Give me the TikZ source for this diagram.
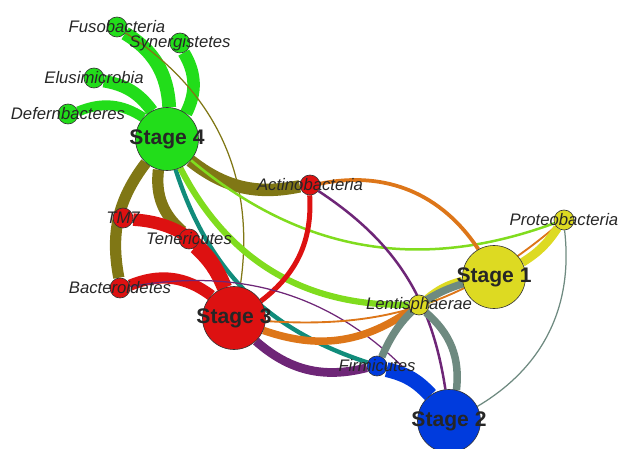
\documentclass[tikz,border=0pt]{standalone}
\usepackage{fontspec}
\setmainfont{Liberation Sans}
\usepackage{xcolor}
\definecolor{sfour}{RGB}{34,221,26}
\definecolor{sthree}{RGB}{221,17,17}
\definecolor{sone}{RGB}{221,218,34}
\definecolor{stwo}{RGB}{0,59,221}
\pgfdeclarelayer{edges}
\pgfsetlayers{edges,main}

\begin{document}
\begin{tikzpicture}[x=0.4mm, y=0.4mm,
  stage/.style={circle, draw=black!80, line width=0.7pt, minimum size=25.2mm, inner sep=0pt},
  stx/.style={font=\bfseries\fontsize{24}{26}\selectfont, text=black!85},
  phylum/.style={circle, draw=black!80, line width=0.7pt, minimum size=8mm, inner sep=0pt},
  tx/.style={font=\itshape\fontsize{19}{21}\selectfont, text=black!85},
  px/.style={line width=#1*0.5mm}]
  \clip (0,0) rectangle (620,448);
  % stages
  \node[stage, fill=sfour, label={[stx]center:Stage 4}]  (s4) at (167,309) {};
  \node[stage, fill=sthree, label={[stx]center:Stage 3}] (s3) at (234,130) {};
  \node[stage, fill=sone, label={[stx]center:Stage 1}]   (s1) at (494,171) {};
  \node[stage, fill=stwo, label={[stx]center:Stage 2}]   (s2) at (449,27)  {};
  % phyla
  \node[phylum, fill=sfour, label={[tx]center:Fusobacteria}]    (fuso)    at (117,421) {};
  \node[phylum, fill=sfour, label={[tx]center:Synergistetes}]   (syner)   at (180,405) {};
  \node[phylum, fill=sfour, label={[tx]center:Elusimicrobia}]   (elusi)   at (94,370)  {};
  \node[phylum, fill=sfour, label={[tx]center:Defernbacteres}]  (defer)   at (68,334)  {};
  \node[phylum, fill=sthree, label={[tx]center:Actinobacteria}] (actino)  at (310,263) {};
  \node[phylum, fill=sthree, label={[tx]center:TM7}]            (tm7)     at (123,230) {};
  \node[phylum, fill=sthree, label={[tx]center:Tenericutes}]    (teneri)  at (189,209) {};
  \node[phylum, fill=sthree, label={[tx]center:Bacteroidetes}]  (bactero) at (120,160) {};
  \node[phylum, fill=sone, label={[tx]center:Proteobacteria}]   (proteo)  at (564,228) {};
  \node[phylum, fill=sone, label={[tx]center:Lentisphaerae}]    (lentis)  at (419,143) {};
  \node[phylum, fill=stwo, label={[tx]center:Firmicutes}]       (firmi)   at (377,82)  {};

  \begin{pgfonlayer}{edges}
    \draw[sfour, px=11] (s4) to[bend right=28] (fuso);
    \draw[sfour, px=10] (s4) to[bend right=29] (syner);
    \draw[sfour, px=10] (s4) to[bend right=22] (elusi);
    \draw[sfour, px=8]  (s4) to[bend right=28] (defer);
    \draw[sfour!50!sthree, px=10] (s4) to[bend right=25] (actino);
    \draw[sfour!50!sthree, px=9]  (s4) to[bend right=24] (bactero);
    \draw[sfour!50!sthree, px=9]  (s4) to[bend right=28] (teneri);
    \draw[sfour!50!sthree, px=1]  (s3) to[bend right=33] (fuso);
    \draw[sfour!50!stwo, px=3.5]  (s4) to[bend right=27] (firmi);
    \draw[sfour!50!sone, px=5]    (s4) to[bend right=32] (lentis);
    \draw[sfour!50!sone, px=2]    (s4) to[bend right=30] (proteo);
    \draw[sthree, px=10] (s3) to[bend right=33] (tm7);
    \draw[sthree, px=12] (s3) to[bend right=12] (teneri);
    \draw[sthree, px=9]  (s3) to[bend right=30] (bactero);
    \draw[sthree, px=4]  (s3) to[bend right=28] (actino);
    \draw[sthree!50!stwo, px=7] (s3) to[bend right=28] (firmi);
    \draw[sthree!50!stwo, px=2] (s2) to[bend right=24] (actino);
    \draw[sthree!50!stwo, px=1] (s2) to[bend right=30] (bactero);
    \draw[sthree!50!sone, px=6]   (s3) to[bend right=27] (lentis);
    \draw[sthree!50!sone, px=1.5] (s3) to[bend right=22] (proteo);
    \draw[sthree!50!sone, px=3]   (s1) to[bend right=34] (actino);
    \draw[sone, px=8] (s1) to[bend right=12] (lentis);
    \draw[sone, px=7] (s1) to[bend right=12] (proteo);
    \draw[sone!50!stwo, px=6] (s1) to[bend right=25] (firmi);
    \draw[sone!50!stwo, px=6] (s2) to[bend right=28] (lentis);
    \draw[sone!50!stwo, px=1] (s2) to[bend right=33] (proteo);
    \draw[stwo, px=12] (s2) to[bend right=17] (firmi);
  \end{pgfonlayer}
\end{tikzpicture}
\end{document}
